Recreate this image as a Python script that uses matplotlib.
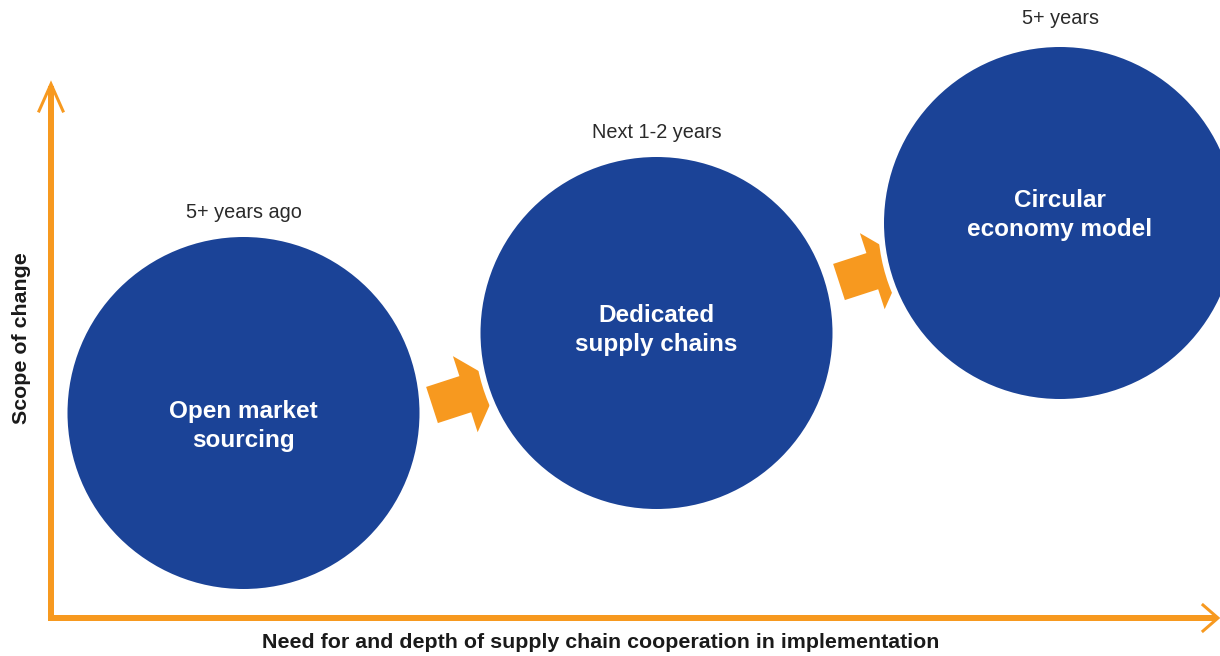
import numpy as np
import matplotlib
matplotlib.use("Agg")
import matplotlib.pyplot as plt
from matplotlib.patches import Circle, Polygon

# ---- data ----
stages = ["Open market\nsourcing", "Dedicated\nsupply chains", "Circular\neconomy model"]
timeframes = ["5+ years ago", "Next 1-2 years", "5+ years"]
x_label = "Need for and depth of supply chain cooperation in implementation"
y_label = "Scope of change"

# ---- layout (pixel coordinates) ----
W, H = 1220, 656
circle_cx = [243.5, 656.5, 1060]
circle_cy = [413, 333, 223]
label_cy = [426, 330, 215]
circle_r = 176
time_y = [213, 132, 18]
arrow_starts = [(432, 405), (839, 282)]
arrow_angle = -18.0

BLUE = "#1B4397"
ORANGE = "#F7991F"
DARK = "#1a1a1a"
FONT = ["Liberation Sans", "DejaVu Sans"]

fig = plt.figure(figsize=(W / 100, H / 100), dpi=100)
ax = fig.add_axes([0, 0, 1, 1])
ax.set_xlim(0, W)
ax.set_ylim(H, 0)
ax.set_aspect("equal")
ax.axis("off")

px = 72 / 100  # points per pixel

# axes lines with open arrowheads
ax.plot([51, 51], [618, 86], color=ORANGE, lw=6 * px, solid_capstyle="butt", zorder=1)
ax.plot([48, 1217], [618, 618], color=ORANGE, lw=6 * px, solid_capstyle="butt", zorder=1)
ax.plot([39, 51, 63], [111, 84, 111], color=ORANGE, lw=3 * px, solid_joinstyle="miter", zorder=1)
ax.plot([1203, 1218, 1203], [605, 618, 631], color=ORANGE, lw=3 * px, solid_joinstyle="miter", zorder=1)

# block arrows between stages
def block_arrow(start, angle_deg, body_len=35, half_w=19, head_len=36, half_head=40):
    local = np.array([
        [0, -half_w], [body_len, -half_w], [body_len, -half_head],
        [body_len + head_len, 0],
        [body_len, half_head], [body_len, half_w], [0, half_w],
    ], dtype=float)
    a = np.deg2rad(angle_deg)
    d = np.array([np.cos(a), np.sin(a)])
    n = np.array([-np.sin(a), np.cos(a)])
    pts = np.array(start) + local[:, :1] * d + local[:, 1:] * n
    return Polygon(pts, closed=True, fc=ORANGE, ec="none", zorder=2)

for s in arrow_starts:
    ax.add_patch(block_arrow(s, arrow_angle))

# circles
edge = 6
for cx, cy in zip(circle_cx, circle_cy):
    ax.add_patch(Circle((cx, cy), circle_r + edge / 2, fc=BLUE, ec="white",
                        lw=edge * px, zorder=3))

fig.canvas.draw()
renderer = fig.canvas.get_renderer()

def fit(t, target, vertical=False):
    for _ in range(3):
        bb = t.get_window_extent(renderer)
        cur = bb.height if vertical else bb.width
        t.set_fontsize(t.get_fontsize() * target / cur)

# stage labels (fit font size on first label line)
probe = ax.text(0, 0, "Open market", fontsize=16, fontweight="bold", family=FONT)
fit(probe, 148)
stage_fs = probe.get_fontsize()
probe.remove()
for lbl, cx, ly in zip(stages, circle_cx, label_cy):
    ax.text(cx, ly, lbl, ha="center", va="center", color="white",
            fontsize=stage_fs, fontweight="bold", family=FONT,
            linespacing=1.38, zorder=4)

# time labels
probe = ax.text(0, 0, "Next 1-2 years", fontsize=12, family=FONT)
fit(probe, 130)
time_fs = probe.get_fontsize()
probe.remove()
for lbl, cx, ty in zip(timeframes, circle_cx, time_y):
    ax.text(cx, ty, lbl, ha="center", va="center", color="#2a2a2a",
            fontsize=time_fs, family=FONT, zorder=4)

# axis labels
tx = ax.text(601, 643, x_label, ha="center", va="center", color=DARK,
             fontsize=14, fontweight="bold", family=FONT)
fit(tx, 678)
ax_fs = tx.get_fontsize()
ty = ax.text(22, 338, y_label, ha="center", va="center", rotation=90,
             color=DARK, fontsize=ax_fs, fontweight="bold", family=FONT)

fig.savefig("out.png", dpi=100)
